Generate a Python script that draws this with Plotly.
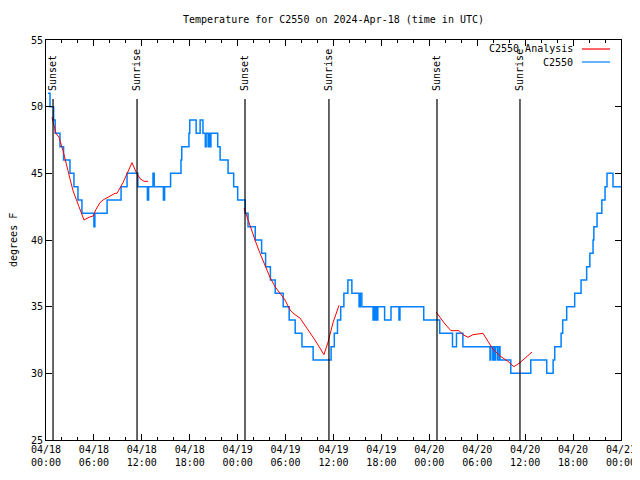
import plotly.graph_objects as go
import pandas as pd

BASE = "2024-04-18 00:00"

# Observed C2550 temperatures (hours since 04/18 00:00 UTC, degrees F), step changes
obs_hours = [0.25, 0.5, 0.95, 1.15, 1.75, 2.2, 3.0, 3.5, 4.0, 4.5, 6.0, 6.12, 7.65, 9.4, 10.15,
             11.5, 12.7, 12.85, 13.4, 13.55, 14.7, 14.85, 15.6, 16.9, 17.0, 17.9, 18.0, 18.8, 19.3,
             19.65, 19.95, 20.05, 20.3, 20.4, 20.55, 20.65, 21.5, 21.8, 22.8, 23.5, 24.0, 24.95, 25.3,
             26.2, 27.0, 27.5, 28.1, 28.7, 29.7, 30.45, 31.2, 32.05, 33.45, 35.7, 36.1, 36.5, 36.9,
             37.3, 37.8, 38.3, 39.2, 39.35, 39.55, 40.95, 41.05, 41.2, 41.3, 41.45, 41.55, 42.4, 43.2,
             44.2, 44.32, 47.3, 49.3, 50.9, 51.4, 52.2, 55.6, 55.7, 55.95, 56.05, 56.2, 56.3, 56.55,
             56.75, 56.85, 58.2, 60.7, 62.7, 63.5, 63.7, 64.5, 64.7, 65.2, 66.2, 67.0, 67.7, 68.1,
             68.5, 68.6, 69.0, 69.6, 70.0, 70.25, 71.0, 72.0]
obs_temps = [51, 50, 49, 48, 47, 46, 45, 44, 43, 42, 41, 42, 43, 44, 45,
             44, 43, 44, 45, 44, 43, 44, 45, 46, 47, 48, 49, 48, 49,
             48, 47, 48, 47, 48, 47, 48, 47, 46, 45, 44, 43, 42, 41,
             40, 39, 38, 37, 36, 35, 34, 33, 32, 31, 32, 33, 34, 35,
             36, 37, 36, 35, 36, 35, 34, 35, 34, 35, 34, 35, 34, 35,
             34, 35, 34, 33, 32, 33, 32, 31, 32, 31, 32, 31, 32, 31,
             32, 31, 30, 31, 30, 31, 32, 33, 34, 35, 36, 37, 38, 39,
             40, 41, 42, 43, 44, 45, 44, 44]

# C2550 Analysis (three overnight segments)
ana1_hours = [0.75, 1.25, 1.63, 2.13, 2.75, 3.38, 4.13, 4.76, 5.38, 5.9, 6.26, 6.76, 7.14, 7.76,
              8.64, 8.89, 9.64, 10.77, 11.27, 11.77, 12.27, 12.77]
ana1_temps = [49.2, 48.0, 47.7, 46.7, 45.2, 43.7, 42.5, 41.5, 41.7, 41.8, 42.3, 42.8, 43.0, 43.2,
              43.5, 43.5, 44.3, 45.8, 45.1, 44.6, 44.4, 44.4]
ana2_hours = [24.8, 25.55, 26.17, 26.8, 27.42, 28.05, 28.68, 29.3, 29.93, 30.55, 31.18, 31.8,
              32.43, 33.06, 33.68, 34.3, 34.8, 35.3, 35.94, 36.69]
ana2_temps = [42.4, 41.0, 40.0, 39.0, 38.1, 37.2, 36.5, 36.0, 35.5, 34.75, 34.4, 34.15,
              33.6, 33.1, 32.5, 31.9, 31.4, 32.3, 33.8, 35.1]
ana3_hours = [48.84, 49.34, 49.96, 50.71, 51.72, 52.22, 52.84, 53.47, 54.72, 55.35, 55.97, 56.85,
              57.85, 58.6, 59.35, 60.86]
ana3_temps = [34.6, 34.2, 33.7, 33.2, 33.2, 32.9, 32.7, 32.9, 33.0, 32.4, 31.8, 31.3,
              30.9, 30.5, 30.8, 31.6]

sun_hours = [0.88, 11.4, 24.92, 35.43, 48.96, 59.35]
sun_labels = ["Sunset", "Sunrise", "Sunset", "Sunrise", "Sunset", "Sunrise"]

y_ticks = [25, 30, 35, 40, 45, 50, 55]

base = pd.Timestamp(BASE)
def to_time(hours):
    return [base + pd.Timedelta(hours=h) for h in hours]

FONT = "DejaVu Sans Mono"
BLUE = "rgb(0,128,255)"

ana_x = to_time(ana1_hours) + [None] + to_time(ana2_hours) + [None] + to_time(ana3_hours)
ana_y = ana1_temps + [None] + ana2_temps + [None] + ana3_temps

fig = go.Figure()
fig.add_trace(go.Scatter(x=to_time(obs_hours), y=obs_temps, mode="lines", name="C2550",
                         line=dict(color=BLUE, width=1.5, shape="hv"),
                         showlegend=False))
fig.add_trace(go.Scatter(x=ana_x, y=ana_y, mode="lines", name="C2550 Analysis",
                         line=dict(color="red", width=1), connectgaps=False,
                         showlegend=False))

for h, lab in zip(sun_hours, sun_labels):
    t = base + pd.Timedelta(hours=h)
    fig.add_shape(type="line", xref="x", yref="paper", x0=t, x1=t, y0=0, y1=0.8525,
                  line=dict(color="black", width=1.2))
    fig.add_annotation(x=t, y=0.8675, xref="x", yref="paper", text=lab, textangle=-90,
                       showarrow=False, xanchor="center", yanchor="bottom",
                       font=dict(family=FONT, size=10, color="black"))

# legend (gnuplot style: text right-aligned, sample to the right)
for name, color, ypos in [("C2550 Analysis", "red", 0.9775), ("C2550", BLUE, 0.945)]:
    fig.add_annotation(x=0.92, y=ypos, xref="paper", yref="paper", text=name, showarrow=False,
                       xanchor="right", yanchor="middle",
                       font=dict(family=FONT, size=10, color="black"))
    fig.add_shape(type="line", xref="paper", yref="paper", x0=0.932, x1=0.981, y0=ypos, y1=ypos,
                  line=dict(color=color, width=1.2))

fig.add_annotation(x=-0.0574, y=0.5, xref="paper", yref="paper", text="degrees F",
                   textangle=-90, showarrow=False, xanchor="center", yanchor="middle",
                   font=dict(family=FONT, size=10, color="black"))

# page body adds an 8px offset; figure sized so the plot lands where the reference has it
fig.update_layout(
    width=632, height=464,
    margin=dict(l=38, r=19, t=32, b=32, autoexpand=False),
    paper_bgcolor="white", plot_bgcolor="white",
    title=dict(text="Temperature for C2550 on 2024-Apr-18 (time in UTC)",
               x=0.5, xref="paper", y=1 - 11 / 464, yref="container",
               xanchor="center", yanchor="middle",
               font=dict(family=FONT, size=10, color="black")),
    font=dict(family=FONT, size=10, color="black"),
    showlegend=False,
)
fig.update_xaxes(
    type="date", automargin=False,
    range=[base, base + pd.Timedelta(hours=72)],
    dtick=6 * 3600 * 1000, tick0=base,
    tickformat="%m/%d<br>%H:%M",
    ticks="inside", ticklen=6, tickcolor="black",
    minor=dict(dtick=2 * 3600 * 1000, ticks="inside", ticklen=3, tickcolor="black", showgrid=False),
    showline=True, linecolor="black", linewidth=1, mirror="ticks",
    showgrid=False, zeroline=False,
    tickfont=dict(family=FONT, size=10, color="black"),
)
fig.update_yaxes(
    automargin=False,
    range=[25, 55], tickvals=y_ticks,
    ticks="inside", ticklen=6, tickcolor="black",
    showline=True, linecolor="black", linewidth=1, mirror="ticks",
    showgrid=False, zeroline=False,
    tickfont=dict(family=FONT, size=10, color="black"),
)

fig.write_html("out.html")
